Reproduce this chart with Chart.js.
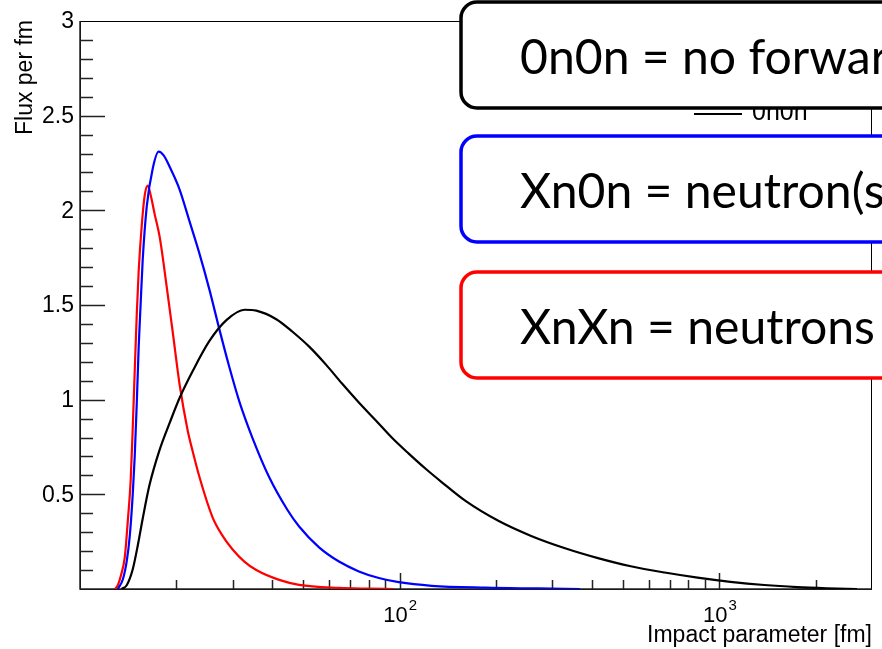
<!DOCTYPE html>
<html>
<head>
<meta charset="utf-8">
<script src="https://cdn.jsdelivr.net/npm/chart.js@4/dist/chart.umd.min.js"></script>
<style>
  html, body { margin: 0; padding: 0; background: #fff; }
  canvas { display: block; }
</style>
</head>
<body>
<canvas id="fluxChart" width="882" height="649"></canvas>
<script>
// impact parameter [fm] vs flux per fm
const b0n0n = [13.5, 14.0, 14.6, 15.2, 15.7, 16.5, 17.7, 19.1, 20.5, 22.5, 25.4, 28.7, 32.7, 35.6, 41.1, 46.1, 52.1, 58.8, 66.0, 74.5, 84.2, 94.4, 106.7, 120.5, 135.2, 160.6, 203.4, 257.7, 328.9, 416.9, 528.1, 674.0, 854.1, 1082, 1381, 1750, 2169, 2691];
const flux0n0n = [0, 0.02, 0.10, 0.24, 0.37, 0.55, 0.73, 0.88, 1.01, 1.15, 1.31, 1.42, 1.475, 1.47, 1.425, 1.36, 1.28, 1.185, 1.085, 0.985, 0.89, 0.80, 0.715, 0.635, 0.565, 0.465, 0.36, 0.28, 0.215, 0.163, 0.12, 0.087, 0.06, 0.038, 0.021, 0.01, 0.004, 0];

const bXn0n = [13.13, 13.61, 14.01, 14.31, 14.62, 14.83, 15.05, 15.26, 15.49, 15.71, 16.17, 16.88, 17.62, 18.27, 19.07, 20.49, 22.02, 23.65, 25.41, 27.30, 29.34, 31.51, 34.59, 39.07, 44.46, 48.46, 55.94, 64.57, 74.53, 86.04, 99.29, 125.8, 185.3, 271.0, 366.4];
const fluxXn0n = [0, 0.05, 0.15, 0.28, 0.50, 0.70, 0.98, 1.28, 1.52, 1.74, 2.02, 2.22, 2.31, 2.29, 2.23, 2.11, 1.94, 1.77, 1.58, 1.37, 1.17, 0.99, 0.80, 0.59, 0.42, 0.33, 0.22, 0.145, 0.093, 0.058, 0.036, 0.017, 0.007, 0.003, 0];

const bXnXn = [12.85, 13.13, 13.42, 13.81, 14.11, 14.41, 14.62, 14.83, 15.05, 15.26, 15.60, 15.94, 16.29, 16.64, 17.12, 17.75, 18.66, 19.49, 20.49, 21.70, 22.49, 23.65, 25.96, 27.70, 29.97, 32.66, 35.60, 41.98, 48.46, 64.57, 80.06, 95.79];
const fluxXnXn = [0, 0.02, 0.07, 0.17, 0.36, 0.58, 0.85, 1.15, 1.45, 1.68, 1.92, 2.08, 2.13, 2.08, 1.98, 1.86, 1.60, 1.36, 1.08, 0.84, 0.73, 0.59, 0.38, 0.29, 0.21, 0.145, 0.10, 0.048, 0.022, 0.006, 0.002, 0];

// axis ticks
const yMajor = [0.5, 1, 1.5, 2, 2.5, 3];
const yLabels = ['0.5', '1', '1.5', '2', '2.5', '3'];
const xMajor = [100, 1000];
const xExponents = ['2', '3'];
const xMinor = [20, 30, 40, 50, 60, 70, 80, 90, 200, 300, 400, 500, 600, 700, 800, 900, 2000];

// overlay boxes
const boxTexts = ['0n0n = no forward neutrons', 'Xn0n = neutron(s) in one direction', 'XnXn = neutrons in both directions'];
const boxColors = ['#000000', '#0000ff', '#ff0000'];

const toPoints = (xs, ys) => xs.map((x, i) => ({ x: x, y: ys[i] }));

const FONT = '"Liberation Sans", Arial, sans-serif';

const rootAxes = {
    id: 'rootAxes',
    beforeDatasetsDraw(chart) {
        const { ctx, chartArea: a, scales: { x, y } } = chart;
        ctx.save();
        ctx.strokeStyle = '#000';
        ctx.lineWidth = 1;
        ctx.strokeRect(a.left + 0.5, a.top + 0.5, a.right - a.left - 1, a.bottom - a.top);

        ctx.lineWidth = 1.5;
        ctx.strokeStyle = '#222';
        ctx.beginPath();
        ctx.moveTo(a.left, a.top);
        ctx.lineTo(a.left, a.bottom);
        ctx.lineTo(a.right, a.bottom);
        ctx.stroke();

        // y ticks: major every 0.5, minor every 0.1
        ctx.beginPath();
        for (let i = 1; i < 30; i++) {
            const py = Math.round(y.getPixelForValue(i / 10)) + 0.5;
            const len = (i % 5 === 0) ? 25 : 13;
            ctx.moveTo(a.left, py);
            ctx.lineTo(a.left + len, py);
        }
        // x ticks
        xMajor.forEach(v => {
            const px = Math.round(x.getPixelForValue(v)) + 0.5;
            ctx.moveTo(px, a.bottom);
            ctx.lineTo(px, a.bottom - 16);
        });
        xMinor.forEach(v => {
            const px = Math.round(x.getPixelForValue(v)) + 0.5;
            ctx.moveTo(px, a.bottom);
            ctx.lineTo(px, a.bottom - 9);
        });
        ctx.stroke();

        ctx.fillStyle = '#000';
        ctx.font = '23px ' + FONT;
        ctx.textAlign = 'right';
        ctx.textBaseline = 'middle';
        yMajor.forEach((v, i) => {
            ctx.fillText(yLabels[i], a.left - 6, y.getPixelForValue(v) + 1);
        });

        ctx.textBaseline = 'alphabetic';
        xMajor.forEach((v, i) => {
            const px = x.getPixelForValue(v);
            ctx.font = '22px ' + FONT;
            const w1 = ctx.measureText('10').width;
            ctx.font = '15px ' + FONT;
            const w2 = ctx.measureText(xExponents[i]).width;
            const start = px - (w1 + w2) / 2;
            ctx.textAlign = 'left';
            ctx.font = '22px ' + FONT;
            ctx.fillText('10', start, a.bottom + 33);
            ctx.font = '15px ' + FONT;
            ctx.fillText(xExponents[i], start + w1 + 1, a.bottom + 21);
        });

        // axis titles
        ctx.font = '23px ' + FONT;
        ctx.textAlign = 'right';
        ctx.fillText('Impact parameter [fm]', a.right, a.bottom + 53);
        ctx.save();
        ctx.translate(32, a.top - 1);
        ctx.rotate(-Math.PI / 2);
        ctx.textAlign = 'right';
        ctx.fillText('Flux per fm', 0, 0);
        ctx.restore();
        ctx.restore();
    },
    afterDraw(chart) {
        const { ctx } = chart;
        ctx.save();
        // legend (mostly hidden by the first box)
        ctx.strokeStyle = '#000';
        ctx.lineWidth = 2;
        ctx.beginPath();
        ctx.moveTo(694, 114);
        ctx.lineTo(742, 114);
        ctx.stroke();
        ctx.fillStyle = '#000';
        ctx.font = '25px ' + FONT;
        ctx.textAlign = 'left';
        ctx.textBaseline = 'alphabetic';
        ctx.fillText(chart.data.datasets[0].label, 752, 120);

        // rounded note boxes
        ctx.font = '100px Lato, "Open Sans", sans-serif';
        const size = 100 * 355 / ctx.measureText('XnXn = neutrons').width;
        const tops = [2, 136, 272];
        boxTexts.forEach((t, i) => {
            ctx.beginPath();
            ctx.roundRect(461, tops[i], 560, 106, 16);
            ctx.fillStyle = '#fff';
            ctx.fill();
            ctx.lineWidth = 3.5;
            ctx.strokeStyle = boxColors[i];
            ctx.stroke();
            ctx.fillStyle = '#000';
            ctx.font = size.toFixed(1) + 'px Lato, "Open Sans", sans-serif';
            ctx.fillText(t, 520, tops[i] + 72);
        });
        ctx.restore();
    }
};

const lineStyle = {
    borderWidth: 2.2,
    pointRadius: 0,
    fill: false,
    cubicInterpolationMode: 'monotone'
};

new Chart(document.getElementById('fluxChart'), {
    type: 'line',
    data: {
        datasets: [
            { label: '0n0n', data: toPoints(b0n0n, flux0n0n), borderColor: '#000000', ...lineStyle },
            { label: 'Xn0n', data: toPoints(bXn0n, fluxXn0n), borderColor: '#0000ff', ...lineStyle },
            { label: 'XnXn', data: toPoints(bXnXn, fluxXnXn), borderColor: '#ff0000', ...lineStyle }
        ]
    },
    options: {
        responsive: false,
        animation: false,
        devicePixelRatio: 1,
        layout: { padding: { left: 80, top: 21, right: 10, bottom: 60 } },
        plugins: { legend: { display: false }, tooltip: { enabled: false } },
        scales: {
            x: { type: 'logarithmic', min: 10, max: 3000, display: false },
            y: { type: 'linear', min: 0, max: 3, display: false }
        }
    },
    plugins: [rootAxes]
});
</script>
</body>
</html>
